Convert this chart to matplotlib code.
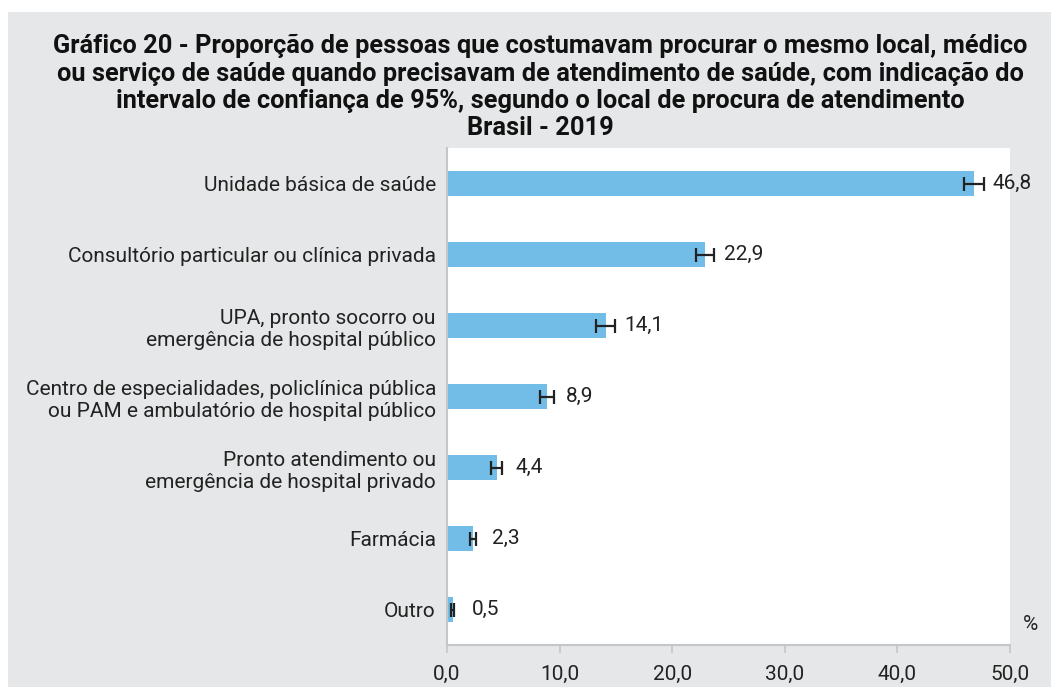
import matplotlib.pyplot as plt
from matplotlib.patches import Rectangle
import numpy as np

plt.rcParams['font.family'] = ['Roboto', 'DejaVu Sans']

categories = [
    "Unidade básica de saúde",
    "Consultório particular ou clínica privada",
    "UPA, pronto socorro ou\nemergência de hospital público",
    "Centro de especialidades, policlínica pública\nou PAM e ambulatório de hospital público",
    "Pronto atendimento ou\nemergência de hospital privado",
    "Farmácia",
    "Outro",
]
values = [46.8, 22.9, 14.1, 8.9, 4.4, 2.3, 0.5]
errors = [0.9, 0.8, 0.85, 0.6, 0.45, 0.3, 0.15]
value_labels = ["46,8", "22,9", "14,1", "8,9", "4,4", "2,3", "0,5"]
xticks = [0, 10, 20, 30, 40, 50]
xtick_labels = ["0,0", "10,0", "20,0", "30,0", "40,0", "50,0"]

title = ("Gráfico 20 - Proporção de pessoas que costumavam procurar o mesmo local, médico\n"
         "ou serviço de saúde quando precisavam de atendimento de saúde, com indicação do\n"
         "intervalo de confiança de 95%, segundo o local de procura de atendimento\n"
         "Brasil - 2019")

bg = "#e6e7e8"
bar_color = "#72bde8"
spine_color = "#c4c6c8"
fs = 15

fig = plt.figure(figsize=(10.51, 6.87), dpi=100)
fig.patch.set_facecolor("white")
fig.patches.append(Rectangle((8 / 1051, 0), 1, 1 - 12 / 687, transform=fig.transFigure,
                             facecolor=bg, edgecolor="none", zorder=-10))

ax = fig.add_axes([447 / 1051, 1 - 645 / 687, (1010 - 447) / 1051, (645 - 148) / 687])
ax.set_facecolor("white")

y = np.arange(len(categories))
ax.barh(y, values, height=0.34, color=bar_color, zorder=2)
ax.errorbar(values, y, xerr=errors, fmt="none", ecolor="#222222", elinewidth=1.6,
            capsize=5, capthick=1.6, zorder=3)
for yi, v, lab in zip(y, values, value_labels):
    ax.annotate(lab, (v, yi), xytext=(13.5, 0), textcoords="offset points",
                va="center", ha="left", fontsize=fs, color="#222222", zorder=4)

ax.set_xlim(0, 50)
ax.set_ylim(len(categories) - 0.5, -0.5)
ax.set_yticks(y)
ax.set_yticklabels(categories, fontsize=fs, color="#222222", linespacing=1.25)
ax.set_xticks(xticks)
ax.set_xticklabels(xtick_labels, fontsize=fs, color="#222222")
ax.tick_params(axis="y", length=0, pad=8)
ax.tick_params(axis="x", length=6, width=1.2, color=spine_color, pad=8)

for side in ["top", "right"]:
    ax.spines[side].set_visible(False)
for side in ["left", "bottom"]:
    ax.spines[side].set_color(spine_color)
    ax.spines[side].set_linewidth(1.5)

fig.text(540 / 1051, 1 - 34 / 687, title, ha="center", va="top", fontsize=18.3,
         fontweight="bold", color="#111111", linespacing=1.17)
fig.text(1031 / 1051, 1 - 625 / 687, "%", ha="center", va="center", fontsize=fs,
         color="#222222")

fig.savefig("out.png", dpi=100, facecolor=fig.get_facecolor())
